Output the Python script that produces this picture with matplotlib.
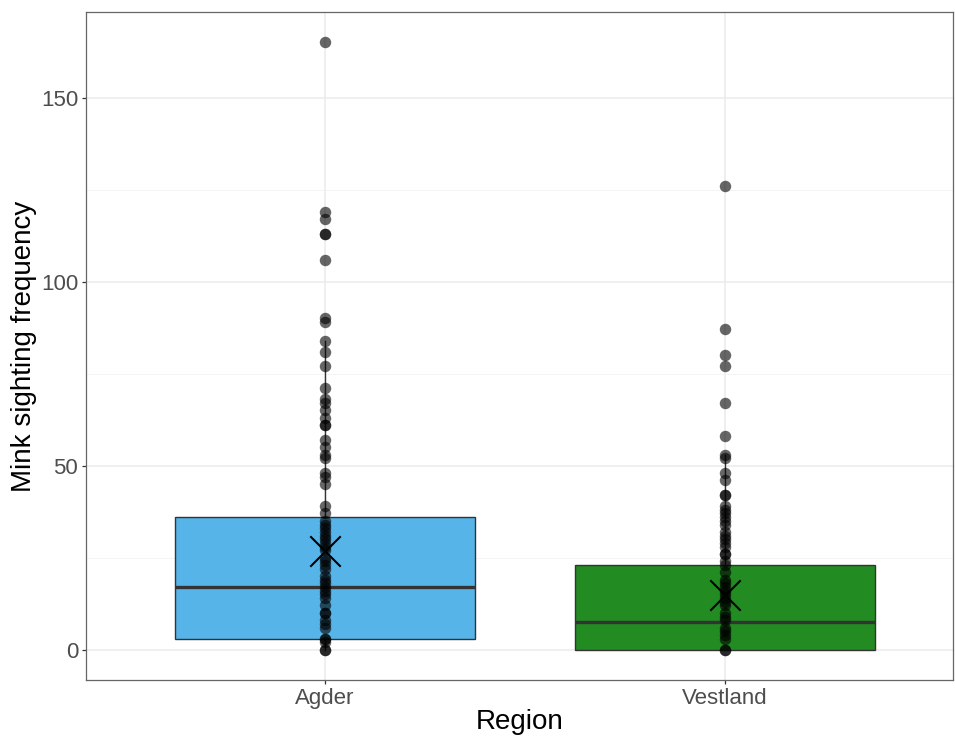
import numpy as np
import matplotlib
matplotlib.use("Agg")
import matplotlib.pyplot as plt

plt.rcParams['font.family'] = ['Liberation Sans', 'DejaVu Sans']

# Regions and read-off sighting counts
regions = ['Agder', 'Vestland']
agder_values = [165, 119, 117, 113, 113, 106, 90, 89, 84, 81, 77, 71, 68, 67, 65,
                63, 61, 61, 57, 55, 53, 52, 48, 47, 45, 39, 37, 35, 34, 33, 32,
                31, 30, 29, 28, 27, 25, 24, 23, 22, 20, 19, 18, 17, 16, 15, 14,
                12, 10, 10, 8, 7, 6, 3, 3, 2, 0, 0]
vestland_values = [126, 87, 80, 77, 67, 58, 53, 52, 48, 46, 42, 42, 39, 38, 37,
                   36, 35, 34, 32, 31, 30, 29, 28, 26, 26, 24, 23, 21, 19, 18,
                   17, 16, 15, 14, 13, 12, 10, 9, 8, 6, 5, 4, 3, 0, 0]

# Box statistics
q1 = [3, 0]
medians = [17, 7.5]
q3 = [36, 23]
whisker_low = [0, 0]
whisker_high = [84, 53]
means = [26.8, 14.8]
box_colors = ['#56B4E9', '#228B22']

fig = plt.figure(figsize=(9.55, 7.38), dpi=100)
ax = fig.add_axes([0.090, 0.0786, 0.908, 0.905])

stats = []
for i, name in enumerate(regions):
    stats.append(dict(label=name, q1=q1[i], med=medians[i], q3=q3[i],
                      whislo=whisker_low[i], whishi=whisker_high[i], fliers=[]))

bp = ax.bxp(stats, positions=[1, 2], widths=0.75, patch_artist=True,
            showcaps=False, showfliers=False,
            boxprops=dict(edgecolor='#333333', linewidth=1.0),
            medianprops=dict(color='#333333', linewidth=2.4),
            whiskerprops=dict(color='#333333', linewidth=1.0),
            zorder=2)
for patch, c in zip(bp['boxes'], box_colors):
    patch.set_facecolor(c)

# Raw points
for i, vals in enumerate([agder_values, vestland_values]):
    ax.scatter(np.full(len(vals), i + 1), vals, s=68, color='black',
               alpha=0.6, linewidths=0, zorder=3)

# Means
ax.scatter([1, 2], means, marker='x', s=480, color='black', linewidths=1.5,
           zorder=4)

ax.set_xlim(0.4025, 2.57)
ax.set_ylim(-8.25, 173.25)
ax.set_xticks([1, 2])
ax.set_xticklabels(regions)
ax.set_yticks([0, 50, 100, 150])
ax.set_yticks([25, 75, 125], minor=True)

ax.grid(True, which='major', color='#EBEBEB', linewidth=1.1, zorder=0)
ax.grid(True, which='minor', axis='y', color='#F2F2F2', linewidth=0.6, zorder=0)
ax.set_axisbelow(True)

for sp in ax.spines.values():
    sp.set_color('#666666')
    sp.set_linewidth(0.9)

ax.tick_params(axis='both', which='major', labelsize=16, labelcolor='#4D4D4D',
               color='#333333', length=3, width=0.9, pad=2.5)
ax.tick_params(axis='both', which='minor', length=0)

ax.set_xlabel('Region', fontsize=20, labelpad=0)
ax.set_ylabel('Mink sighting frequency', fontsize=20, labelpad=3)

fig.savefig('out.png', dpi=100)
